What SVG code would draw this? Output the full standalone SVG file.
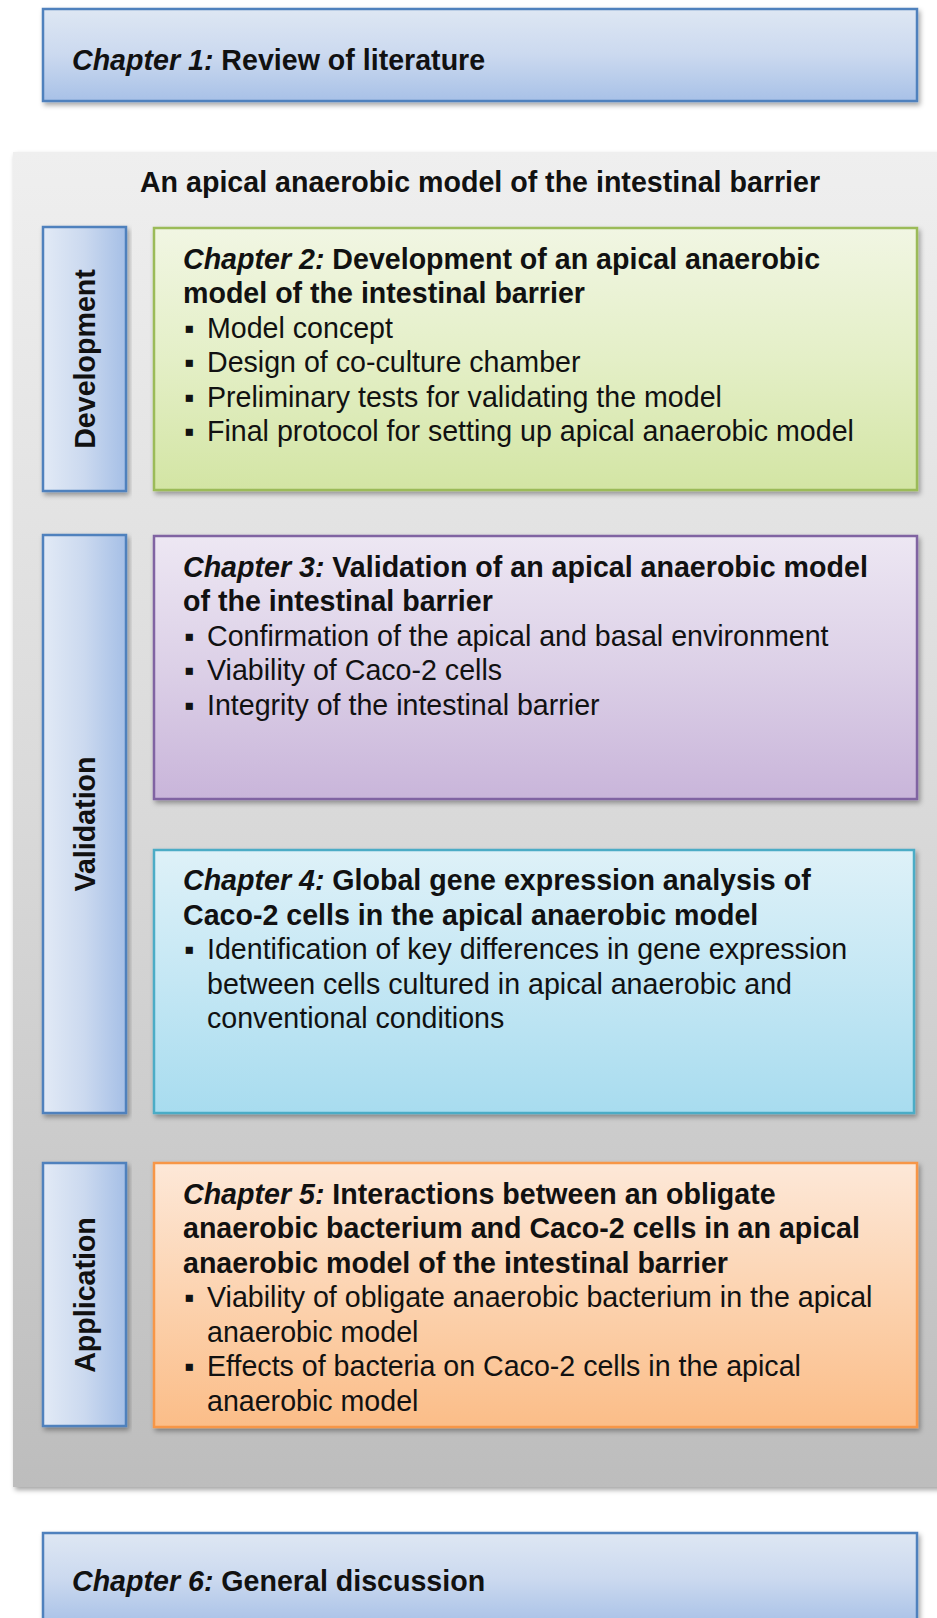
<svg xmlns="http://www.w3.org/2000/svg" width="937" height="1618" viewBox="0 0 937 1618">
<style>
text{font-family:"Liberation Sans",Arial,sans-serif;font-size:28.6px;fill:#111}
.b{font-weight:bold}
.i{font-style:italic}
.box{stroke-width:2.5}
.blue{fill:url(#gBlue);stroke:#4f81bd}
.side{fill:url(#gSide);stroke:#4f81bd}
.green{fill:url(#gGreen);stroke:#9bbb59}
.purple{fill:url(#gPurple);stroke:#8064a2}
.cyan{fill:url(#gCyan);stroke:#4bacc6}
.orange{fill:url(#gOrange);stroke:#f79646}
</style>
<defs>
<linearGradient id="gBlue" x1="0" y1="0" x2="0" y2="1"><stop offset="0" stop-color="#dee7f3"/><stop offset="0.5" stop-color="#cbd9ef"/><stop offset="1" stop-color="#a8c1e7"/></linearGradient>
<linearGradient id="gSide" x1="0" y1="0" x2="1" y2="0"><stop offset="0" stop-color="#e2eaf6"/><stop offset="0.5" stop-color="#cbd9ef"/><stop offset="1" stop-color="#a5bfe6"/></linearGradient>
<linearGradient id="gGreen" x1="0" y1="0" x2="0" y2="1"><stop offset="0" stop-color="#f1f6e3"/><stop offset="0.5" stop-color="#e4efc7"/><stop offset="1" stop-color="#d3e5a4"/></linearGradient>
<linearGradient id="gPurple" x1="0" y1="0" x2="0" y2="1"><stop offset="0" stop-color="#ede7f3"/><stop offset="0.5" stop-color="#dcd0e7"/><stop offset="1" stop-color="#c9b5da"/></linearGradient>
<linearGradient id="gCyan" x1="0" y1="0" x2="0" y2="1"><stop offset="0" stop-color="#def1f8"/><stop offset="0.5" stop-color="#c4e7f4"/><stop offset="1" stop-color="#a8dcef"/></linearGradient>
<linearGradient id="gOrange" x1="0" y1="0" x2="0" y2="1"><stop offset="0" stop-color="#fde8d8"/><stop offset="0.5" stop-color="#fcd3b0"/><stop offset="1" stop-color="#fbbd88"/></linearGradient>
<linearGradient id="gGray" x1="0" y1="0" x2="0" y2="1"><stop offset="0" stop-color="#efefef"/><stop offset="0.5" stop-color="#d9d9d9"/><stop offset="1" stop-color="#bdbdbd"/></linearGradient>
<filter id="sh" x="-5%" y="-5%" width="112%" height="115%"><feDropShadow dx="2" dy="3" stdDeviation="2.5" flood-color="#000" flood-opacity="0.35"/></filter>
</defs>

<g id="chapter1">
<rect class="box blue" x="43" y="9" width="874" height="92" filter="url(#sh)"/>
<text class="b" x="72" y="70"><tspan class="i">Chapter 1:</tspan> Review of literature</text>
</g>

<g id="container">
<rect x="13" y="152" width="940" height="1335" fill="url(#gGray)" filter="url(#sh)"/>
<text class="b" x="480" y="192" text-anchor="middle">An apical anaerobic model of the intestinal barrier</text>
</g>

<g id="development">
<rect class="box side" x="43" y="227" width="83" height="264" filter="url(#sh)"/>
<text class="b" transform="translate(95,359) rotate(-90)" text-anchor="middle">Development</text>
</g>

<g id="chapter2">
<rect class="box green" x="154" y="228" width="763" height="262" filter="url(#sh)"/>
<text class="b" x="183" y="269"><tspan class="i">Chapter 2:</tspan> Development of an apical anaerobic</text>
<text class="b" x="183" y="303">model of the intestinal barrier</text>
<text x="184" y="338">▪</text><text x="207" y="338">Model concept</text>
<text x="184" y="372">▪</text><text x="207" y="372">Design of co-culture chamber</text>
<text x="184" y="407">▪</text><text x="207" y="407">Preliminary tests for validating the model</text>
<text x="184" y="441">▪</text><text x="207" y="441">Final protocol for setting up apical anaerobic model</text>
</g>

<g id="validation">
<rect class="box side" x="43" y="535" width="83" height="578" filter="url(#sh)"/>
<text class="b" transform="translate(95,824) rotate(-90)" text-anchor="middle">Validation</text>
</g>

<g id="chapter3">
<rect class="box purple" x="154" y="536" width="763" height="263" filter="url(#sh)"/>
<text class="b" x="183" y="577"><tspan class="i">Chapter 3:</tspan> Validation of an apical anaerobic model</text>
<text class="b" x="183" y="611">of the intestinal barrier</text>
<text x="184" y="646">▪</text><text x="207" y="646">Confirmation of the apical and basal environment</text>
<text x="184" y="680">▪</text><text x="207" y="680">Viability of Caco-2 cells</text>
<text x="184" y="715">▪</text><text x="207" y="715">Integrity of the intestinal barrier</text>
</g>

<g id="chapter4">
<rect class="box cyan" x="154" y="850" width="760" height="263" filter="url(#sh)"/>
<text class="b" x="183" y="890"><tspan class="i">Chapter 4:</tspan> Global gene expression analysis of</text>
<text class="b" x="183" y="925">Caco-2 cells in the apical anaerobic model</text>
<text x="184" y="959">▪</text><text x="207" y="959">Identification of key differences in gene expression</text>
<text x="207" y="994">between cells cultured in apical anaerobic and</text>
<text x="207" y="1028">conventional conditions</text>
</g>

<g id="application">
<rect class="box side" x="43" y="1163" width="83" height="263" filter="url(#sh)"/>
<text class="b" transform="translate(95,1295) rotate(-90)" text-anchor="middle">Application</text>
</g>

<g id="chapter5">
<rect class="box orange" x="154" y="1163" width="763" height="264" filter="url(#sh)"/>
<text class="b" x="183" y="1204"><tspan class="i">Chapter 5:</tspan> Interactions between an obligate</text>
<text class="b" x="183" y="1238">anaerobic bacterium and Caco-2 cells in an apical</text>
<text class="b" x="183" y="1273">anaerobic model of the intestinal barrier</text>
<text x="184" y="1307">▪</text><text x="207" y="1307">Viability of obligate anaerobic bacterium in the apical</text>
<text x="207" y="1342">anaerobic model</text>
<text x="184" y="1376">▪</text><text x="207" y="1376">Effects of bacteria on Caco-2 cells in the apical</text>
<text x="207" y="1411">anaerobic model</text>
</g>

<g id="chapter6">
<rect class="box blue" x="43" y="1533" width="874" height="92" filter="url(#sh)"/>
<text class="b" x="72" y="1591"><tspan class="i">Chapter 6:</tspan> General discussion</text>
</g>

<g id="connectors"></g>
</svg>
